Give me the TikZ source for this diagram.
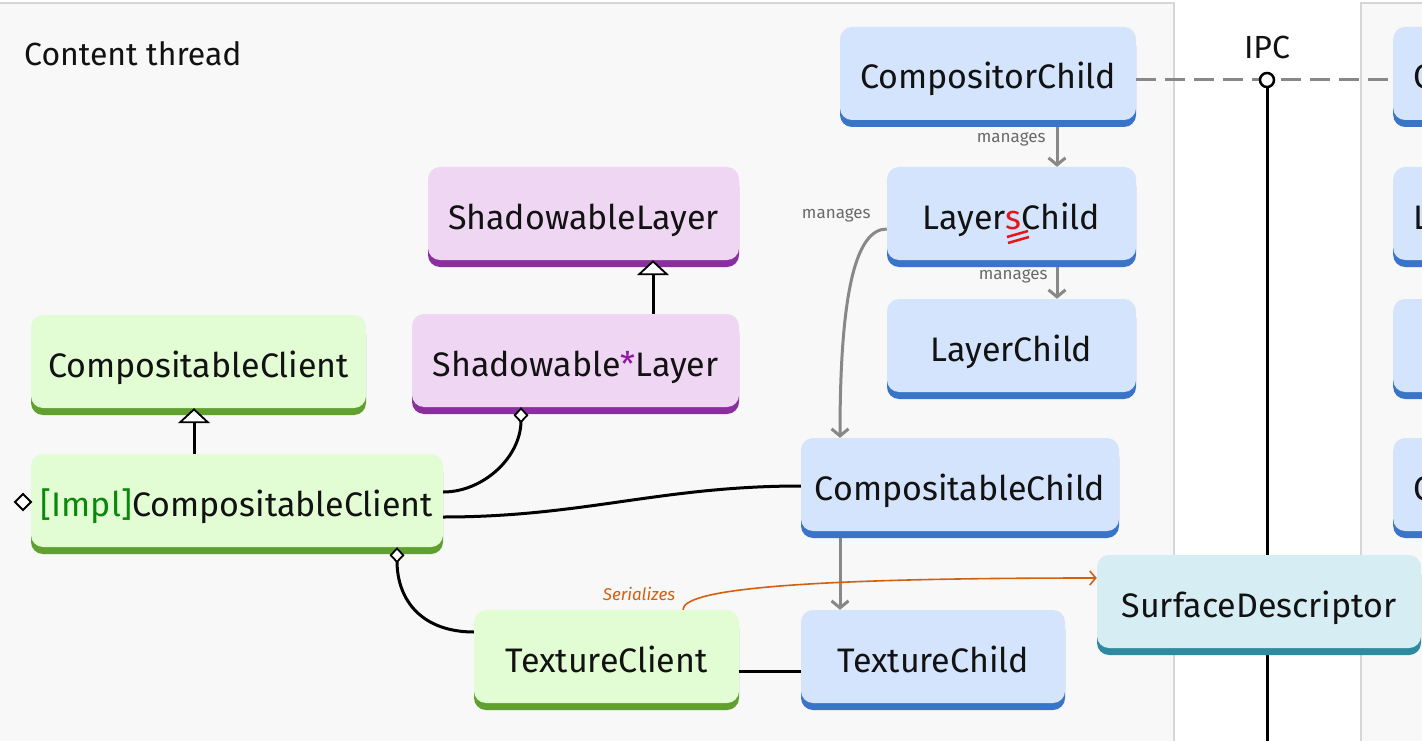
\documentclass[tikz,border=0pt]{standalone}
\usepackage{fontspec}
\setmainfont{Fira Sans}
\usetikzlibrary{arrows.meta,shadows}
\definecolor{panelbg}{HTML}{F8F8F8}
\definecolor{panelln}{HTML}{D6D6D6}
\definecolor{bluel}{HTML}{D4E4FC}
\definecolor{blued}{HTML}{3A74C9}
\definecolor{greenl}{HTML}{E2FCD4}
\definecolor{greend}{HTML}{5FA02F}
\definecolor{purpl}{HTML}{EFD7F3}
\definecolor{purpd}{HTML}{8B2E9F}
\definecolor{teall}{HTML}{D6EDF3}
\definecolor{teald}{HTML}{2F8AA0}
\definecolor{gline}{HTML}{888888}
\definecolor{glabel}{HTML}{6A6A6A}
\definecolor{orng}{HTML}{D2600E}
\definecolor{implgreen}{HTML}{0A880A}
\definecolor{starpurple}{HTML}{8B1A9E}
\definecolor{redmark}{HTML}{E8141B}
\begin{document}
\begin{tikzpicture}[x=1pt,y=-1pt,
  box/.style={rounded corners=12pt, minimum height=93pt, inner sep=0pt,
    text height=31pt, text depth=0pt, font=\fontsize{34}{40}\selectfont, text=black!93},
  bluebox/.style={box, fill=bluel, general shadow={fill=blued, shadow yshift=-7pt}},
  greenbox/.style={box, fill=greenl, general shadow={fill=greend, shadow yshift=-7pt}},
  purpbox/.style={box, fill=purpl, general shadow={fill=purpd, shadow yshift=-7pt}},
  tealbox/.style={box, fill=teall, general shadow={fill=teald, shadow yshift=-7pt}},
  partbox/.style={bluebox, anchor=west, minimum width=230pt, text width=190pt, align=left, inner xsep=20pt},
  lbl/.style={font=\fontsize{17}{20}\selectfont, text=glabel, inner sep=0pt},
  serlbl/.style={font=\itshape\fontsize{17}{20}\selectfont, text=orng, inner sep=0pt},
  bigtxt/.style={font=\fontsize{32}{38}\selectfont, text=black!93, inner sep=0pt},
  garrow/.style={draw=gline, line width=3pt, -{Straight Barb[length=7pt,width=17pt]}},
  inh/.style={draw=black, line width=3pt, -{Triangle[length=15pt,width=32pt,fill=white,line width=1.8pt]}},
  agg/.style={draw=black, line width=3pt, {Diamond[length=16pt,width=15pt,fill=white,line width=1.8pt]}-},
  plain/.style={draw=black, line width=3pt},
  ser/.style={draw=orng, line width=1.6pt, -{Straight Barb[length=6pt,width=14pt]}},
  ipcdash/.style={draw=gline, line width=3pt, dash pattern=on 20pt off 9pt},
]
\useasboundingbox (0,0) rectangle (1422,741);
% panels
\fill[white] (0,0) rectangle (1422,741);
\draw[panelln, line width=1.5pt, fill=panelbg] (-5,3) rectangle (1174,760);
\draw[panelln, line width=1.5pt, fill=panelbg] (1361,3) rectangle (1440,760);

\node[bigtxt, anchor=base west] (title) at (24,66) {Content thread};
\node[bigtxt, anchor=base] (ipclabel) at (1267,59) {IPC};

% blue column
\node[bluebox, minimum width=296pt] (compositor) at (988,73.5) {CompositorChild};
\node[bluebox, minimum width=249pt] (layers) at (1011.5,213.5) {Layer\textcolor{redmark}{s}Child};
\node[bluebox, minimum width=249pt] (layer) at (1011.5,345.5) {LayerChild};
\node[bluebox, minimum width=318pt] (compchild) at (960,484.5) {CompositableChild};
\node[bluebox, minimum width=264pt] (texchild) at (933,656.5) {TextureChild};

% partial nodes at the right edge
\node[partbox] (rp1) at (1393,73.5) {C};
\node[partbox] (rp2) at (1393,213.5) {L};
\node[partbox] (rp3) at (1393,345.5) {};
\node[partbox] (rp4) at (1393,484.5) {C};

% IPC
\coordinate (ipcc) at (1267,80);
\coordinate (ipcbot) at (1267,745);
\draw[ipcdash] ([yshift=-6.5pt]compositor.east) -- ([yshift=-6.5pt]rp1.west);
\draw[plain] (ipcc) -- (ipcbot);
\node[circle, draw=black, line width=2.5pt, fill=white, minimum size=14pt, inner sep=0pt] (ipc) at (ipcc) {};

% other nodes
\node[tealbox, minimum width=324pt] (surface) at (1259,601.5) {SurfaceDescriptor};
\node[purpbox, minimum width=311pt] (shadowable) at (583.5,213.5) {ShadowableLayer};
\node[purpbox, minimum width=327pt] (shadowstar) at (575.5,360.5) {Shadowable\textcolor{starpurple}{*}Layer};
\node[greenbox, minimum width=335pt] (compclient) at (198.5,361.5) {CompositableClient};
\node[greenbox, minimum width=412pt] (impl) at (237,500.5) {\textcolor{implgreen}{[Impl]}CompositableClient};
\node[greenbox, minimum width=265pt] (texclient) at (606.5,656.5) {TextureClient};

% red marks under the s
\draw[redmark, line width=2.5pt] ([xshift=-4.5pt,yshift=-23.5pt]layers.center) -- ([xshift=16.5pt,yshift=-17.5pt]layers.center);
\draw[redmark, line width=2.5pt] ([xshift=-3.5pt,yshift=-29.5pt]layers.center) -- ([xshift=17.5pt,yshift=-23.5pt]layers.center);

% manages arrows
\draw[garrow] ([xshift=69pt,yshift=-7pt]compositor.south) -- ([xshift=45.5pt]layers.north)
  node[lbl, pos=0.3, anchor=east, xshift=-10pt] (m1) {manages};
\draw[garrow] ([xshift=45.5pt,yshift=-7pt]layers.south) -- ([xshift=45.5pt]layer.north)
  node[lbl, pos=0.3, anchor=east, xshift=-8pt] (m2) {manages};
\draw[garrow] ([yshift=-15.5pt]layers.west) .. controls +(-30,0) and +(0,-150) .. ([xshift=-120pt]compchild.north);
\node[lbl, anchor=east] (m3) at ([xshift=-16pt,yshift=-1.5pt]layers.west) {manages};
\draw[garrow] ([xshift=-120pt,yshift=-7pt]compchild.south) -- ([xshift=-93pt]texchild.north);

% inheritance
\draw[inh] ([xshift=77.5pt]shadowstar.north) -- ([xshift=69.5pt]shadowable.south);
\draw[inh] ([xshift=-43pt]impl.north) -- ([xshift=-4.5pt]compclient.south);

% aggregation and links
\draw[agg] ([xshift=-54.5pt]shadowstar.south) .. controls +(0,50) and +(40,0) .. ([yshift=8.5pt]impl.east);
\draw[agg] ([xshift=160pt]impl.south) .. controls +(0,55) and +(-50,0) .. ([yshift=24.5pt]texclient.west);
\draw[plain] ([yshift=-16.5pt]impl.east) .. controls +(140,0) and +(-140,0) .. ([yshift=-1.5pt]compchild.west);
\draw[plain] ([yshift=-14.5pt]texclient.east) -- ([yshift=-14.5pt]texchild.west);
\draw[black, line width=1.8pt, fill=white] (15,502) -- (23,494) -- (31,502) -- (23,510) -- cycle;

% serializes
\draw[ser] ([xshift=76.5pt]texclient.north) .. controls +(0,-19) and +(-317,0) .. ([yshift=23.5pt]surface.west)
  node[serlbl, pos=0, anchor=south east, xshift=-7pt, yshift=8pt] (serl) {Serializes};
\end{tikzpicture}
\end{document}
